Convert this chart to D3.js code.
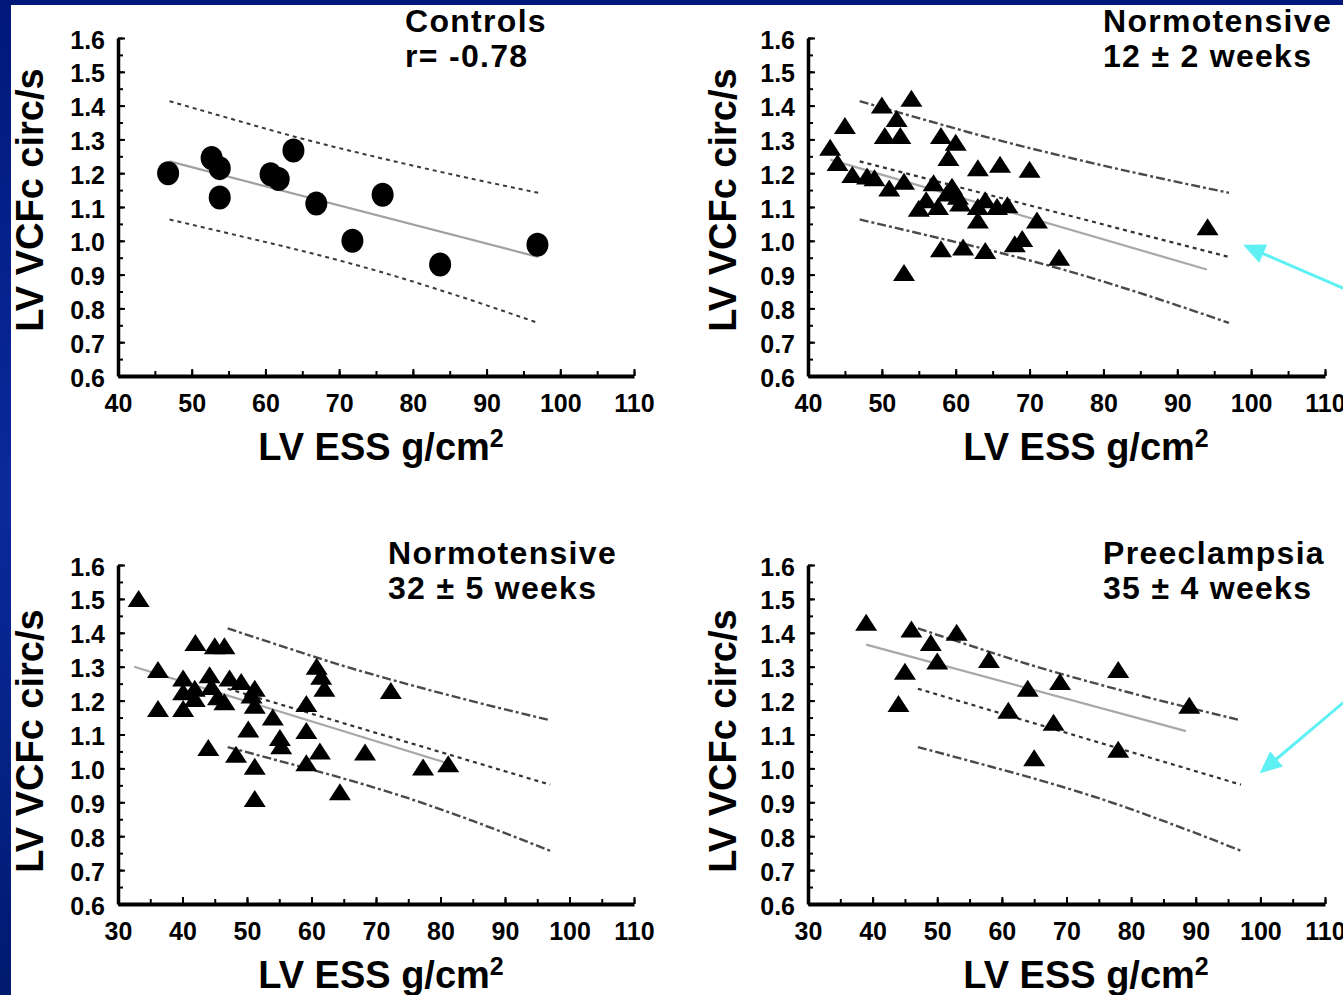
<!DOCTYPE html>
<html><head><meta charset="utf-8">
<script src="https://cdn.jsdelivr.net/npm/d3@7"></script>
<style>html,body{margin:0;padding:0;background:#fff;overflow:hidden}</style>
</head><body>
<svg id="chart" width="1343" height="995"></svg>
<script>
// ---------------- data ----------------
const yTickValues = [0.6,0.7,0.8,0.9,1.0,1.1,1.2,1.3,1.4,1.5,1.6];
const xTicksTop = [40,50,60,70,80,90,100,110];
const xTicksBottom = [30,40,50,60,70,80,90,100,110];

const controlsPoints = [[46.8,1.20],[52.7,1.245],[53.8,1.215],[53.8,1.128],[63.8,1.267],[60.7,1.197],[61.8,1.183],[66.9,1.11],[75.9,1.136],[71.8,1.0],[83.7,0.93],[96.9,0.988]];

const norm12Points = [[54,1.42],[50,1.40],[45,1.34],[52,1.36],[50.4,1.31],[52.5,1.31],[58,1.31],[60,1.29],[59,1.245],[43,1.275],[44,1.23],[63,1.215],[66,1.225],[70,1.21],[46,1.195],[48,1.19],[49,1.185],[51,1.155],[53,1.175],[57,1.17],[59.5,1.16],[56,1.12],[58.8,1.14],[60.3,1.13],[55,1.095],[57.6,1.10],[60.6,1.11],[64,1.12],[63,1.10],[65.6,1.10],[67,1.105],[63,1.06],[71,1.06],[69,1.005],[68,0.99],[58,0.975],[61,0.98],[64,0.97],[53,0.905],[74,0.95],[94.1,1.04]];

const norm32Points = [[33.2,1.50],[42,1.37],[45,1.36],[46.5,1.36],[36.2,1.29],[40.1,1.265],[44.2,1.275],[47.3,1.265],[49.1,1.255],[51.2,1.235],[40.1,1.225],[41.9,1.235],[44.5,1.24],[45.5,1.21],[41.9,1.205],[40.1,1.175],[36.2,1.175],[46.5,1.195],[50.7,1.215],[51.2,1.185],[54,1.15],[50.2,1.115],[59.2,1.19],[60.8,1.30],[61.5,1.27],[62,1.235],[55.1,1.09],[55.3,1.065],[59.2,1.11],[44,1.06],[48.3,1.04],[51.2,1.005],[59.2,1.015],[61.3,1.05],[51.2,0.91],[64.4,0.93],[72.3,1.228],[68.3,1.047],[77.3,1.003],[81.2,1.012]];

const preeclampsiaPoints = [[39,1.43],[46,1.41],[53,1.40],[49,1.37],[50,1.315],[45,1.285],[58,1.32],[69,1.255],[64,1.235],[44,1.19],[61,1.17],[68,1.135],[65,1.03],[78,1.29],[89,1.185],[78,1.055]];

// control-group reference lines (fit and prediction band)
const upperBand = [[47,1.413],[55,1.363],[65,1.302],[75,1.248],[86,1.193],[97,1.142]];
const lowerBand = [[47,1.063],[56,1.017],[65,0.97],[75,0.912],[85,0.845],[97,0.757]];
const controlFit = [[47,1.235],[97,0.952]];

// group regression lines
const norm12Fit = [[43,1.24],[94,0.915]];
const norm32Fit = [[32.5,1.30],[82,1.01]];
const preeclampsiaFit = [[39,1.365],[88.5,1.11]];

// annotation arrows [tail, tip]
const norm12Arrow = [[120,0.788],[98.9,0.988]];
const preeclampsiaArrow = [[121.6,1.335],[99.9,0.986]];

const panelTitles = [["Controls","r= -0.78"],["Normotensive","12 \u00b1 2 weeks"],["Normotensive","32 \u00b1 5 weeks"],["Preeclampsia","35 \u00b1 4 weeks"]];
const xAxisTitle = "LV ESS g/cm";
const xAxisTitleSup = "2";
const yAxisTitle = "LV VCFc circ/s";

// ---------------- layout ----------------
const FONT = "'Liberation Sans', Arial, Helvetica, sans-serif";
const svg = d3.select("#chart");

const defs = svg.append("defs");
const grad = defs.append("linearGradient").attr("id","bg").attr("x1",0).attr("y1",0).attr("x2",0).attr("y2",1);
grad.append("stop").attr("offset","0%").attr("stop-color","#00187a");
grad.append("stop").attr("offset","50%").attr("stop-color","#0a2a9c");
grad.append("stop").attr("offset","100%").attr("stop-color","#001a70");

svg.append("rect").attr("width",1343).attr("height",995).attr("fill","url(#bg)");
svg.append("rect").attr("x",11).attr("y",5).attr("width",1332).attr("height",990).attr("fill","#fff");

const panels = [
  {xd:[40,110], xr:[118,634], yr:[376,38], xt:xTicksTop, pts:controlsPoints, marker:"circle", fit:controlFit, first:true,
   title:[405,32,67], yTitle:[43,200], xTitle:[381,460]},
  {xd:[40,110], xr:[808,1325], yr:[376,38], xt:xTicksTop, pts:norm12Points, marker:"tri", fit:norm12Fit, arrow:norm12Arrow,
   title:[1103,32,67], yTitle:[736,200], xTitle:[1086,460]},
  {xd:[30,110], xr:[118,634], yr:[904,565], xt:xTicksBottom, pts:norm32Points, marker:"tri", fit:norm32Fit,
   title:[388,564,599], yTitle:[43,741], xTitle:[381,988]},
  {xd:[30,110], xr:[808,1325], yr:[904,565], xt:xTicksBottom, pts:preeclampsiaPoints, marker:"tri", fit:preeclampsiaFit, arrow:preeclampsiaArrow,
   title:[1103,564,599], yTitle:[736,741], xTitle:[1086,988]}
];

panels.forEach((p,i) => {
  const x = d3.scaleLinear().domain(p.xd).range(p.xr);
  const y = d3.scaleLinear().domain([0.6,1.6]).range(p.yr);
  const g = svg.append("g");
  const line = d3.line().x(d=>x(d[0])).y(d=>y(d[1]));
  const curve = d3.line().x(d=>x(d[0])).y(d=>y(d[1])).curve(d3.curveMonotoneX);

  // reference lines
  if (p.first) {
    g.append("path").attr("d",curve(upperBand)).attr("fill","none").attr("stroke","#3a3a3a").attr("stroke-width",2).attr("stroke-dasharray","4,4");
    g.append("path").attr("d",curve(lowerBand)).attr("fill","none").attr("stroke","#3a3a3a").attr("stroke-width",2).attr("stroke-dasharray","4,4");
    g.append("path").attr("d",line(p.fit)).attr("fill","none").attr("stroke","#a0a0a0").attr("stroke-width",2.2);
  } else {
    g.append("path").attr("d",curve(upperBand)).attr("fill","none").attr("stroke","#4a4a4a").attr("stroke-width",2.4).attr("stroke-dasharray","9,3,3,3");
    g.append("path").attr("d",curve(lowerBand)).attr("fill","none").attr("stroke","#4a4a4a").attr("stroke-width",2.4).attr("stroke-dasharray","9,3,3,3");
    g.append("path").attr("d",line(controlFit)).attr("fill","none").attr("stroke","#333").attr("stroke-width",2.2).attr("stroke-dasharray","4,4");
    g.append("path").attr("d",line(p.fit)).attr("fill","none").attr("stroke","#a8a8a8").attr("stroke-width",2.2);
  }

  // axes
  const yMinor = y.ticks(20);
  const gyMinor = g.append("g").attr("transform",`translate(${p.xr[0]},0)`)
    .call(d3.axisLeft(y).tickValues(yMinor).tickFormat("").tickSize(-5).tickSizeOuter(0));
  gyMinor.select(".domain").remove();
  gyMinor.selectAll("line").attr("stroke","#000").attr("stroke-width",2);

  const gy = g.append("g").attr("transform",`translate(${p.xr[0]},0)`)
    .call(d3.axisLeft(y).tickValues(yTickValues).tickFormat(d3.format(".1f")).tickSize(-7).tickSizeOuter(0).tickPadding(13));
  gy.select(".domain").attr("stroke","#000").attr("stroke-width",3.5);
  gy.selectAll("line").attr("stroke","#000").attr("stroke-width",2);
  gy.selectAll("text").attr("font-family",FONT).attr("font-size",25).attr("font-weight","bold").attr("fill","#000").attr("dy","0.4em");

  const xMinor = x.ticks((p.xd[1]-p.xd[0])/5);
  const gxMinor = g.append("g").attr("transform",`translate(0,${p.yr[0]})`)
    .call(d3.axisBottom(x).tickValues(xMinor).tickFormat("").tickSize(-5).tickSizeOuter(0));
  gxMinor.select(".domain").remove();
  gxMinor.selectAll("line").attr("stroke","#000").attr("stroke-width",2);

  const gx = g.append("g").attr("transform",`translate(0,${p.yr[0]})`)
    .call(d3.axisBottom(x).tickValues(p.xt).tickFormat(d3.format("d")).tickSize(-7).tickSizeOuter(0).tickPadding(18));
  gx.select(".domain").attr("stroke","#000").attr("stroke-width",4);
  gx.selectAll("line").attr("stroke","#000").attr("stroke-width",2);
  gx.selectAll("text").attr("font-family",FONT).attr("font-size",25).attr("font-weight","bold").attr("fill","#000");

  // markers
  const triPath = "M0,-9L11,8L-11,8Z";
  if (p.marker === "circle") {
    g.selectAll("ellipse.pt").data(p.pts).join("ellipse")
      .attr("cx",d=>x(d[0])).attr("cy",d=>y(d[1])).attr("rx",11).attr("ry",12).attr("fill","#000");
  } else {
    g.selectAll("path.pt").data(p.pts).join("path").attr("class","pt")
      .attr("d",triPath).attr("transform",d=>`translate(${x(d[0])},${y(d[1])})`).attr("fill","#000");
  }

  // titles
  const t = g.append("text").attr("font-family",FONT).attr("font-size",32).attr("letter-spacing","1.3px").attr("font-weight","bold").attr("fill","#000");
  t.append("tspan").attr("x",p.title[0]).attr("y",p.title[1]).text(panelTitles[i][0]);
  t.append("tspan").attr("x",p.title[0]).attr("y",p.title[2]).text(panelTitles[i][1]);

  // axis titles
  const xt = g.append("text").attr("x",p.xTitle[0]).attr("y",p.xTitle[1]).attr("text-anchor","middle")
    .attr("font-family",FONT).attr("font-size",38).attr("font-weight","bold").attr("fill","#000");
  xt.append("tspan").text(xAxisTitle);
  xt.append("tspan").attr("font-size",25).attr("dy",-13).text(xAxisTitleSup);

  g.append("text").attr("transform",`translate(${p.yTitle[0]},${p.yTitle[1]}) rotate(-90)`).attr("text-anchor","middle")
    .attr("font-family",FONT).attr("font-size",38).attr("font-weight","bold").attr("fill","#000").text(yAxisTitle);

  // arrow
  if (p.arrow) {
    const [tail, tip] = p.arrow.map(d=>[x(d[0]),y(d[1])]);
    const ang = Math.atan2(tip[1]-tail[1], tip[0]-tail[0]);
    const L = 22, W = 10;
    const bx = tip[0]-L*Math.cos(ang), by = tip[1]-L*Math.sin(ang);
    g.append("line").attr("x1",tail[0]).attr("y1",tail[1]).attr("x2",bx+2*Math.cos(ang)).attr("y2",by+2*Math.sin(ang))
      .attr("stroke","#5ff0f4").attr("stroke-width",3);
    const px = -Math.sin(ang), py = Math.cos(ang);
    g.append("path").attr("d",`M${tip[0]},${tip[1]}L${bx+W*px},${by+W*py}L${bx-W*px},${by-W*py}Z`).attr("fill","#5ff0f4");
  }
});
</script>
</body></html>
